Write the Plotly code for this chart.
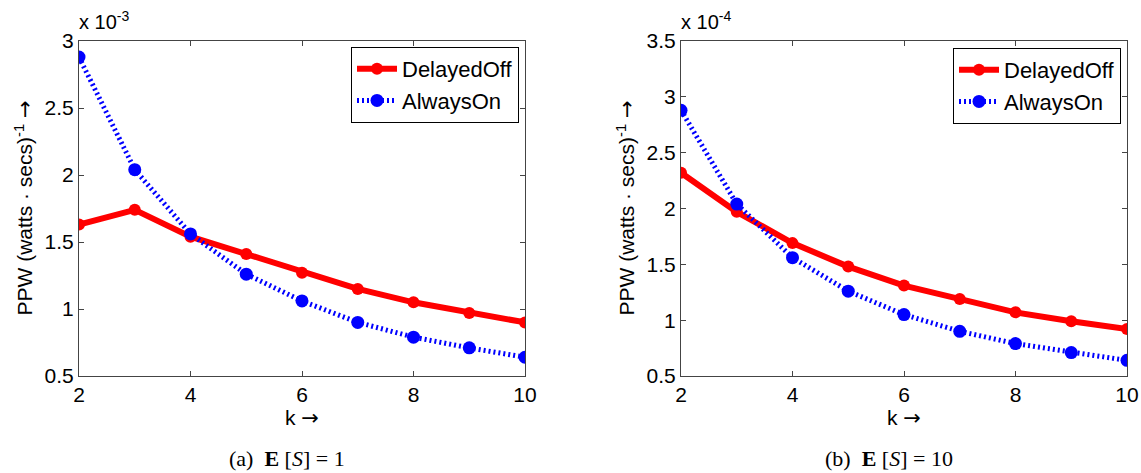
import plotly.graph_objects as go

# ---------------- data ----------------
k_values = [2, 3, 4, 5, 6, 7, 8, 9, 10]

# panel (a): E[S] = 1, values in units of 1e-3
a_delayed_off = [1.63, 1.74, 1.54, 1.41, 1.27, 1.15, 1.05, 0.97, 0.90]
a_always_on = [2.88, 2.04, 1.56, 1.26, 1.06, 0.90, 0.79, 0.71, 0.64]

# panel (b): E[S] = 10, values in units of 1e-4
b_delayed_off = [2.32, 1.97, 1.69, 1.48, 1.31, 1.19, 1.07, 0.99, 0.92]
b_always_on = [2.88, 2.04, 1.56, 1.26, 1.05, 0.90, 0.79, 0.71, 0.64]

a_yticks = [0.5, 1, 1.5, 2, 2.5, 3]
a_yticklabels = ["0.5", "1", "1.5", "2", "2.5", "3"]
b_yticks = [0.5, 1, 1.5, 2, 2.5, 3, 3.5]
b_yticklabels = ["0.5", "1", "1.5", "2", "2.5", "3", "3.5"]
x_ticks = [2, 4, 6, 8, 10]

series_names = ["DelayedOff", "AlwaysOn"]
a_exponent = "x 10<sup>-3</sup>"
b_exponent = "x 10<sup>-4</sup>"
a_caption = "(a)  <b>E</b> [<i>S</i>] = 1"
b_caption = "(b)  <b>E</b> [<i>S</i>] = 10"
ARROW = "<span style='font-family:DejaVu Sans'>→</span>"
x_title = "k " + ARROW
y_title = "PPW (watts · secs)<sup>-1</sup> " + ARROW

# ---------------- layout geometry ----------------
W, H = 1141, 473
SANS = "Liberation Sans, Arial, sans-serif"
SERIF = "Liberation Serif, Times New Roman, serif"
FS = 21

L1, R1 = 79, 525
L2, R2 = 681, 1127
TOP, BOT = 41, 376


def px(x):
    return x / W


def py(y):
    return 1 - y / H


fig = go.Figure()

red_line = dict(color="#ff0000", width=6)
blue_line = dict(color="#0000ff", width=5, dash="2px,3px")
red_marker = dict(color="#ff0000", size=12, symbol="circle")
blue_marker = dict(color="#0000ff", size=13, symbol="circle")

fig.add_trace(go.Scatter(x=k_values, y=a_delayed_off, mode="lines+markers",
                         name=series_names[0], line=red_line, marker=red_marker,
                         xaxis="x", yaxis="y", legend="legend"))
fig.add_trace(go.Scatter(x=k_values, y=a_always_on, mode="lines+markers",
                         name=series_names[1], line=blue_line, marker=blue_marker,
                         xaxis="x", yaxis="y", legend="legend"))
fig.add_trace(go.Scatter(x=k_values, y=b_delayed_off, mode="lines+markers",
                         name=series_names[0], line=red_line, marker=red_marker,
                         xaxis="x2", yaxis="y2", legend="legend2"))
fig.add_trace(go.Scatter(x=k_values, y=b_always_on, mode="lines+markers",
                         name=series_names[1], line=blue_line, marker=blue_marker,
                         xaxis="x2", yaxis="y2", legend="legend2"))

axis_common = dict(showline=True, linecolor="#444444", linewidth=1, mirror="ticks",
                   ticks="inside", ticklen=5, tickcolor="#444444", tickwidth=1,
                   showgrid=False, zeroline=False, automargin=False,
                   tickfont=dict(family=SANS, size=FS, color="black"))

legend_common = dict(bgcolor="white", bordercolor="black", borderwidth=1,
                     font=dict(family=SANS, size=22, color="black"),
                     itemwidth=40, xanchor="right", yanchor="top",
                     tracegroupgap=0, xref="paper", yref="paper")

fig.update_layout(
    template="none",
    width=W, height=H, autosize=False,
    margin=dict(l=0, r=0, t=0, b=0, pad=0),
    paper_bgcolor="white", plot_bgcolor="white",
    showlegend=True,
    xaxis=dict(domain=[px(L1), px(R1)], range=[2, 10], tickvals=x_ticks,
               anchor="y", **axis_common),
    yaxis=dict(domain=[py(BOT), py(TOP)], range=[0.5, 3], tickvals=a_yticks,
               ticktext=a_yticklabels, anchor="x", **axis_common),
    xaxis2=dict(domain=[px(L2), px(R2)], range=[2, 10], tickvals=x_ticks,
                anchor="y2", **axis_common),
    yaxis2=dict(domain=[py(BOT), py(TOP)], range=[0.5, 3.5], tickvals=b_yticks,
                ticktext=b_yticklabels, anchor="x2", **axis_common),
    legend=dict(x=px(519), y=py(47), **legend_common),
    legend2=dict(x=px(1121), y=py(48), **legend_common),
)

annotations = []
for left, right, expo, cap in [(L1, R1, a_exponent, a_caption),
                               (L2, R2, b_exponent, b_caption)]:
    mid = (left + right) / 2
    annotations.append(dict(text=expo, x=px(left - 2), y=py(35), xref="paper", yref="paper",
                            xanchor="left", yanchor="bottom", showarrow=False,
                            font=dict(family=SANS, size=20, color="black")))
    annotations.append(dict(text=x_title, x=px(mid), y=py(418), xref="paper", yref="paper",
                            xanchor="center", yanchor="middle", showarrow=False,
                            font=dict(family=SANS, size=FS, color="black")))
    annotations.append(dict(text=y_title, x=px(left - 55), y=py((TOP + BOT) / 2),
                            xref="paper", yref="paper", textangle=-90,
                            xanchor="center", yanchor="middle", showarrow=False,
                            font=dict(family=SANS, size=FS, color="black")))
    annotations.append(dict(text=cap, x=px(mid - 15), y=py(458), xref="paper", yref="paper",
                            xanchor="center", yanchor="middle", showarrow=False,
                            font=dict(family=SERIF, size=22, color="black")))
fig.update_layout(annotations=annotations)

fig.write_html("out.html", config={"displayModeBar": False},
               post_script="document.body.style.margin='0';document.body.style.overflow='hidden';")
